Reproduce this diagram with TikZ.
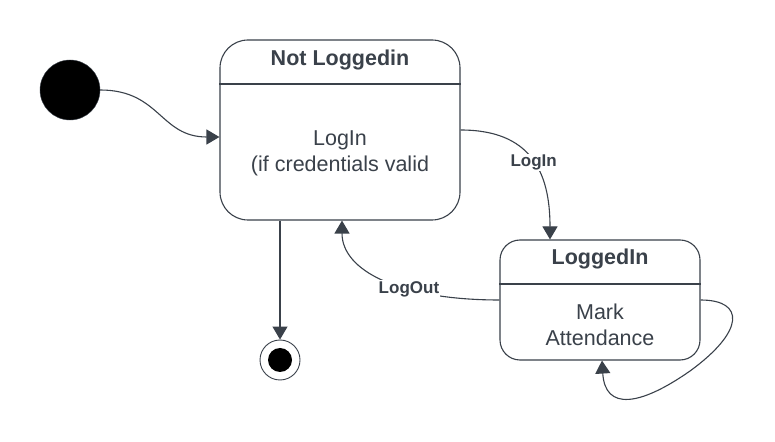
\documentclass[tikz,border=0pt]{standalone}
\usepackage{fontspec}
\setmainfont{Liberation Sans}
\usetikzlibrary{arrows.meta}
\definecolor{ink}{HTML}{3A414A}
\begin{document}
\begin{tikzpicture}[x=1pt, y=1pt,
    statebox/.style={draw=ink, line width=1.1pt, rounded corners=#1, inner sep=0pt},
    statetitle/.style={text=ink, font=\fontsize{21.5}{25}\selectfont\bfseries},
    statetext/.style={text=ink, align=center, font=\fontsize{21.5}{26}\selectfont},
    translabel/.style={text=ink, fill=white, inner sep=1pt, font=\fontsize{17}{20}\selectfont\bfseries},
    trans/.style={draw=ink, line width=1.1pt, -{Triangle[length=13pt, width=15pt]}}]
\useasboundingbox[fill=white] (0,0) rectangle (775,441);

% Initial and final state
\node[circle, fill=black, draw=ink, minimum size=60pt, inner sep=0pt] (init) at (70,351) {};
\node[circle, fill=white, draw=ink, line width=0.9pt, minimum size=40pt, inner sep=0pt] (final) at (280,81) {};
\node[circle, fill=black, minimum size=24pt, inner sep=0pt] (finaldot) at (final) {};

% State Not Loggedin
\node[statebox=28pt, minimum width=240pt, minimum height=180pt] (notlogged) at (340,311) {};
\draw[ink, line width=1.1pt] (notlogged.west |- 0,357) -- (notlogged.east |- 0,357);
\node[statetitle] (notloggedtitle) at (340,381) {Not Loggedin};
\node[statetext] (notloggedtext) at (340,288) {LogIn\\(if credentials valid};

% State LoggedIn
\node[statebox=20pt, minimum width=200pt, minimum height=120pt] (loggedin) at (600,141) {};
\draw[ink, line width=1.1pt] (loggedin.west |- 0,157) -- (loggedin.east |- 0,157);
\node[statetitle] (loggedintitle) at (600,182) {LoggedIn};
\node[statetext] (loggedintext) at (600,116) {Mark\\Attendance};

% Transitions
\draw[trans] (init.east) .. controls (160,351) and (160,304) .. ([yshift=-7pt]notlogged.west);
\draw[trans] (notlogged.south -| final.north) -- (final.north);
\draw[trans] (notlogged.east) .. controls (530,311) and (550,270) .. ([xshift=-50pt]loggedin.north)
    node[translabel, pos=0.53] (loginlabel) {LogIn};
\draw[trans] (loggedin.west) .. controls (400,141) and (342,170) .. ([xshift=2pt]notlogged.south)
    node[translabel, pos=0.36] (logoutlabel) {LogOut};
\draw[trans] (loggedin.east) .. controls (745,141) and (745,110) .. (690,70)
    .. controls (640,35) and (605,30) .. ([xshift=2pt]loggedin.south);

\end{tikzpicture}
\end{document}
